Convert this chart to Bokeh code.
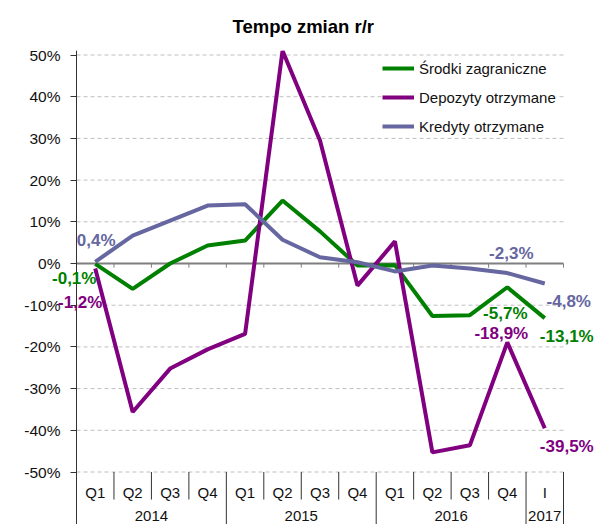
from bokeh.plotting import figure
from bokeh.models import FixedTicker, PrintfTickFormatter, Label, Range1d, Legend, LegendItem
from bokeh.core.properties import value
from bokeh.embed import file_html
from bokeh.resources import INLINE

# ---- data ----
quarters = ["Q1", "Q2", "Q3", "Q4", "Q1", "Q2", "Q3", "Q4", "Q1", "Q2", "Q3", "Q4", "I"]
years = ["2014", "2015", "2016", "2017"]
year_sizes = [4, 4, 4, 1]
srodki = [-0.1, -6.1, 0.0, 4.3, 5.5, 15.1, 7.7, -0.5, -0.4, -12.6, -12.4, -5.7, -13.1]
depozyty = [-1.2, -35.6, -25.2, -20.6, -16.9, 51.0, 29.5, -5.3, 5.3, -45.3, -43.6, -18.9, -39.5]
kredyty = [0.4, 6.7, 10.3, 13.9, 14.2, 5.7, 1.5, 0.3, -1.9, -0.5, -1.2, -2.3, -4.8]
y_ticks = [-50, -40, -30, -20, -10, 0, 10, 20, 30, 40, 50]

GREEN = "#008000"
PURPLE = "#800080"
SLATE = "#6666A0"
FONT = "Liberation Sans"

n = len(quarters)
xs = [i + 0.5 for i in range(n)]

W, H = 596, 524
TOP = 50
unit_x = 487 / n          # px per category
unit_y = 4.17             # px per percent
zero_px = 263
x_start = -76 / unit_x
x_end = (W - 76) / unit_x
y_end = (zero_px - TOP) / unit_y
y_start = (zero_px - H) / unit_y

p = figure(width=W, height=H, output_backend="svg", toolbar_location=None,
           x_range=Range1d(x_start, x_end), y_range=Range1d(y_start, y_end),
           x_axis_location=None, min_border_left=0, min_border_right=0,
           min_border_top=TOP, min_border_bottom=0)
p.outline_line_color = None
p.background_fill_color = "white"

# title
p.title.text = "Tempo zmian r/r"
p.title.text_font = FONT
p.title.text_font_size = "18.5px"
p.title.text_font_style = "bold"
p.title.text_color = "black"
p.title.align = "left"
p.title.offset = 232
p.title.standoff = 27

# y axis placed at x = 0 inside the frame
p.yaxis.fixed_location = 0
p.yaxis.ticker = FixedTicker(ticks=y_ticks)
p.yaxis.formatter = PrintfTickFormatter(format="%d%%")
p.yaxis.major_label_text_font = FONT
p.yaxis.major_label_text_font_size = "15.5px"
p.yaxis.major_label_text_color = "#111111"
p.yaxis.axis_line_color = "#333333"
p.yaxis.major_tick_line_color = "#333333"
p.yaxis.major_tick_out = 6
p.yaxis.major_tick_in = 0
p.yaxis.minor_tick_line_color = None
p.yaxis.major_label_standoff = 10

p.xgrid.visible = False
p.ygrid.visible = False

# horizontal dashed grid lines over the category span
grid_vals = [t for t in y_ticks if t != 0]
p.segment(x0=[0] * len(grid_vals), y0=grid_vals, x1=[n] * len(grid_vals), y1=grid_vals,
          line_color="#BFBFBF", line_width=1, line_dash="4 3")

# zero line with ticks
p.segment(x0=[0], y0=[0], x1=[n], y1=[0], line_color="#7F7F7F", line_width=2)
bx = list(range(1, n + 1))
p.segment(x0=bx, y0=[0] * len(bx), x1=bx, y1=[-1.0] * len(bx), line_color="#7F7F7F", line_width=1)

# category axis (drawn inside the extended frame)
year_bounds = []
acc = 0
for s in year_sizes:
    acc += s
    year_bounds.append(acc)
q_bounds = [b for b in range(1, n) if b not in year_bounds]
p.segment(x0=q_bounds, y0=[-50] * len(q_bounds), x1=q_bounds, y1=[-56.6] * len(q_bounds),
          line_color="#333333", line_width=1)
p.segment(x0=year_bounds, y0=[-50] * len(year_bounds), x1=year_bounds, y1=[y_start] * len(year_bounds),
          line_color="#333333", line_width=1)
p.text(x=xs, y=[-54.9] * n, text=quarters, text_font=value(FONT), text_font_size="15px",
       text_align="center", text_baseline="middle", text_color="#111111")
year_centers = []
start = 0
for s in year_sizes:
    year_centers.append(start + s / 2)
    start += s
p.text(x=year_centers, y=[-60.6] * len(years), text=years, text_font=value(FONT), text_font_size="15px",
       text_align="center", text_baseline="middle", text_color="#111111")

# series
r1 = p.line(xs, srodki, line_color=GREEN, line_width=4)
r2 = p.line(xs, depozyty, line_color=PURPLE, line_width=4)
r3 = p.line(xs, kredyty, line_color=SLATE, line_width=4)

legend = Legend(items=[LegendItem(label="Środki zagraniczne", renderers=[r1]),
                       LegendItem(label="Depozyty otrzymane", renderers=[r2]),
                       LegendItem(label="Kredyty otrzymane", renderers=[r3])],
                location=(382, H - 135))
legend.glyph_width = 32
legend.glyph_height = 18
legend.label_height = 18
legend.spacing = 11
legend.padding = 2
legend.margin = 0
legend.label_standoff = 5
legend.border_line_color = None
legend.background_fill_color = "white"
legend.background_fill_alpha = 1
legend.label_text_font = FONT
legend.label_text_font_size = "15px"
legend.label_text_color = "#111111"
p.add_layout(legend)

# data labels: (series values, color, index, dx, dy)
label_specs = [
    (kredyty, SLATE, 0, 1, 21),
    (srodki, GREEN, 0, -21, -15),
    (depozyty, PURPLE, 0, -15, -34),
    (kredyty, SLATE, 11, 4, 20),
    (kredyty, SLATE, 12, 24, -18),
    (srodki, GREEN, 11, -2, -26),
    (depozyty, PURPLE, 11, -6, 9),
    (srodki, GREEN, 12, 22, -18),
    (depozyty, PURPLE, 12, 22, -18),
]
for vals, col, i, dx, dy in label_specs:
    txt = f"{vals[i]:.1f}".replace(".", ",") + "%"
    p.add_layout(Label(x=xs[i], y=vals[i], text=txt, x_offset=dx, y_offset=dy,
                       text_align="center", text_baseline="middle",
                       text_font=FONT, text_font_size="17px", text_font_style="bold",
                       text_color=col))

open("out.html", "w").write(file_html(p, INLINE))
